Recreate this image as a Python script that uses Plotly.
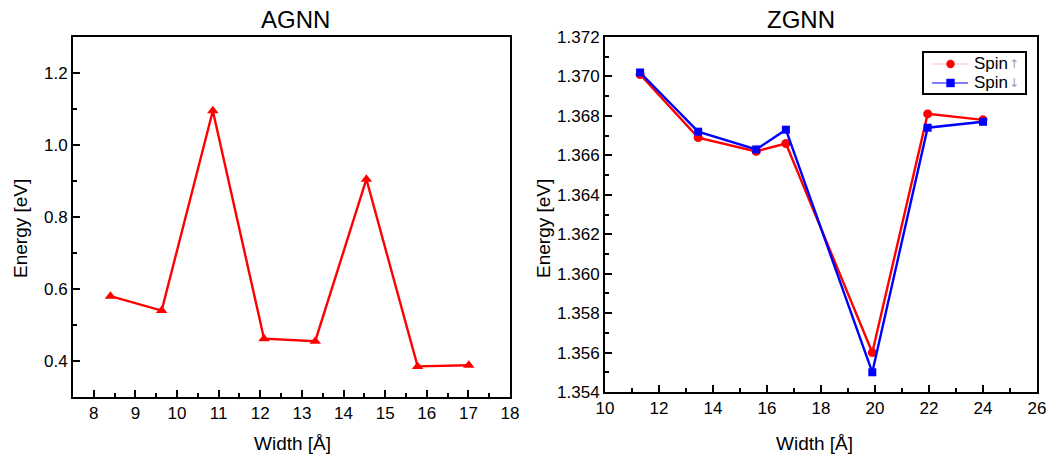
import plotly.graph_objects as go

# AGNN data
agnn_width = [8.4, 9.63, 10.86, 12.09, 13.32, 14.55, 15.78, 17.01]
agnn_energy = [0.58, 0.54, 1.095, 0.462, 0.455, 0.905, 0.385, 0.388]

# ZGNN data
zgnn_width = [11.3, 13.45, 15.6, 16.7, 19.9, 21.95, 24.0]
zgnn_spin_up = [1.3701, 1.3669, 1.3662, 1.3666, 1.3560, 1.3681, 1.3678]
zgnn_spin_down = [1.3702, 1.3672, 1.3663, 1.3673, 1.3550, 1.3674, 1.3677]

legend_labels = ["Spin", "Spin"]
legend_arrows = ["↑", "↓"]

FONT = "Liberation Sans, Arial, sans-serif"
W, H = 1061, 460

fig = go.Figure()

fig.add_trace(go.Scatter(x=agnn_width, y=agnn_energy, mode="lines+markers",
                         line=dict(color="#ff0000", width=2.4),
                         marker=dict(symbol="triangle-up", size=10, color="#ff0000"),
                         xaxis="x", yaxis="y", showlegend=False))

fig.add_trace(go.Scatter(x=zgnn_width, y=zgnn_spin_up, mode="lines+markers",
                         line=dict(color="#ff0000", width=2.4),
                         marker=dict(symbol="circle", size=9, color="#ff0000"),
                         xaxis="x2", yaxis="y2", showlegend=False))
fig.add_trace(go.Scatter(x=zgnn_width, y=zgnn_spin_down, mode="lines+markers",
                         line=dict(color="#0000ff", width=2.4),
                         marker=dict(symbol="square", size=8, color="#0000ff"),
                         xaxis="x2", yaxis="y2", showlegend=False))


def px_x(p):
    return p / W


def px_y(p):
    return 1 - p / H


axis_common = dict(showline=True, linecolor="black", linewidth=2, mirror=True,
                   ticks="inside", ticklen=7, tickwidth=2, tickcolor="black",
                   showgrid=False, zeroline=False, automargin=False,
                   tickfont=dict(family=FONT, size=17, color="black"))

minor_style = dict(ticks="inside", ticklen=4, tickwidth=2, tickcolor="black", showgrid=False)

fig.update_layout(
    width=W, height=H,
    margin=dict(l=0, r=0, t=0, b=0),
    plot_bgcolor="white", paper_bgcolor="white",
    font=dict(family=FONT, color="black"),
    showlegend=False,
    xaxis=dict(domain=[px_x(73), px_x(510)], range=[7.5, 18], dtick=1, anchor="y",
               minor=dict(dtick=0.5, **minor_style), **axis_common),
    yaxis=dict(domain=[px_y(397), px_y(37)], range=[0.3, 1.3], tick0=0.4, dtick=0.2,
               tickformat=".1f", anchor="x",
               minor=dict(tick0=0.3, dtick=0.1, **minor_style), **axis_common),
    xaxis2=dict(domain=[px_x(605), px_x(1037)], range=[10, 26], dtick=2, anchor="y2",
                minor=dict(dtick=1, **minor_style), **axis_common),
    yaxis2=dict(domain=[px_y(392), px_y(37)], range=[1.354, 1.372], dtick=0.002,
                tickformat=".3f", anchor="x2",
                minor=dict(dtick=0.001, **minor_style), **axis_common),
)

ann_font_title = dict(family=FONT, size=24, color="black")
ann_font_axis = dict(family=FONT, size=19, color="black")
annotations = [
    dict(text="AGNN", x=px_x(295), y=px_y(20), font=ann_font_title),
    dict(text="ZGNN", x=px_x(801), y=px_y(20), font=ann_font_title),
    dict(text="Width [Å]", x=px_x(292), y=px_y(443), font=ann_font_axis),
    dict(text="Width [Å]", x=px_x(814), y=px_y(443), font=ann_font_axis),
    dict(text="Energy [eV]", x=px_x(20), y=px_y(229), font=ann_font_axis, textangle=-90),
    dict(text="Energy [eV]", x=px_x(543), y=px_y(229), font=ann_font_axis, textangle=-90),
]

# --- custom legend (box, sample lines, markers, labels) ---
shapes = [dict(type="rect", xref="paper", yref="paper",
               x0=px_x(923), x1=px_x(1026), y0=px_y(94), y1=px_y(52),
               line=dict(color="black", width=2), fillcolor="white", layer="above")]
rows = [(64, "rgba(255,0,0,0.25)", "#ff0000", "circle"),
        (83, "#0000ff", "#0000ff", "square")]
for (ry, lcol, mcol, msym), lab, arr in zip(rows, legend_labels, legend_arrows):
    shapes.append(dict(type="line", xref="paper", yref="paper",
                       x0=px_x(932), x1=px_x(968), y0=px_y(ry), y1=px_y(ry),
                       line=dict(color=lcol, width=1.2), layer="above"))
    r = 4.2
    shapes.append(dict(type="circle" if msym == "circle" else "rect",
                       xref="paper", yref="paper",
                       x0=px_x(950.5 - r), x1=px_x(950.5 + r),
                       y0=px_y(ry + r), y1=px_y(ry - r),
                       line=dict(color=mcol, width=0), fillcolor=mcol, layer="above"))
    annotations.append(dict(text=lab, x=px_x(972), y=px_y(ry), xanchor="left",
                            font=dict(family=FONT, size=17, color="black")))
    annotations.append(dict(text=arr, x=px_x(1014), y=px_y(ry), xanchor="center",
                            font=dict(family="DejaVu Sans", size=12, color="#a0a0a0")))

for a in annotations:
    a.setdefault("xanchor", "center")
    fig.add_annotation(xref="paper", yref="paper", showarrow=False,
                       yanchor="middle", **a)
fig.update_layout(shapes=shapes)

fig.write_html("out.html")
